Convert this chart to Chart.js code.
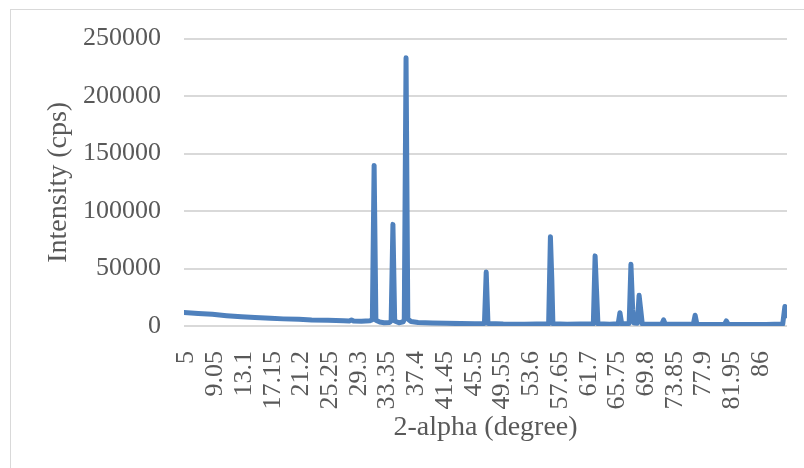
<!DOCTYPE html>
<html>
<head>
<meta charset="utf-8">
<script src="https://cdn.jsdelivr.net/npm/chart.js@4"></script>
<style>
  html, body { margin: 0; padding: 0; background: #fff; overflow: hidden; }
  #wrap { position: relative; width: 804px; height: 468px; }
  #frame { position: absolute; left: 10px; top: 9px; width: 900px; height: 600px;
           border: 1.5px solid #d9d9d9; box-sizing: border-box; }
</style>
</head>
<body>
<div id="wrap">
  <div id="frame"></div>
  <canvas id="myChart"></canvas>
</div>
<script>
// 2-theta positions (degree) and intensities
const angles = [
  5.0, 7.0, 9.0, 11.0, 13.1, 15.0, 17.2, 19.0, 21.2, 23.0, 25.3, 27.5, 28.3, 28.6, 28.9, 30.0, 31.2,
  31.55, 31.8, 32.05, 32.6, 33.2, 34.0, 34.2, 34.45, 34.7, 35.3, 35.9, 36.05, 36.3, 36.55, 37.0,
  38.0, 40.0, 42.0, 44.0, 46.0, 47.35, 47.6, 47.85, 50.0, 53.0, 56.4, 56.65, 56.85, 57.0,
  59.0, 62.7, 62.95, 63.15, 63.35, 65.0, 66.2, 66.45, 66.7, 67.75, 68.0, 68.25, 68.45, 68.9,
  69.15, 69.4, 69.6, 71.0, 72.35, 72.6, 72.85, 75.0, 76.8, 77.05, 77.3, 79.0, 81.2, 81.45,
  81.7, 84.0, 87.0, 89.4, 89.7, 89.85, 90.0
];
const intensity = [
  11700, 10900, 10200, 9000, 8000, 7300, 6700, 6200, 5800, 5300, 5000, 4500, 4400, 5300, 4300, 4200, 4500,
  5500, 139700, 5000, 3400, 2900, 3100, 4500, 88400, 4300, 2800, 3600, 6000, 233400, 6000, 3900,
  3100, 2600, 2300, 2100, 1900, 2200, 47000, 2200, 1700, 1600, 2000, 77700, 40000, 2000,
  1600, 1900, 61000, 31000, 1900, 1600, 1900, 11600, 1900, 2200, 53700, 14000, 2500, 2300,
  26700, 13000, 1800, 1500, 1600, 5300, 1600, 1500, 1700, 9300, 1600, 1400, 1500, 4400,
  1500, 1400, 1400, 1700, 16900, 10500, 9000
];
const tickLabels = ['5', '9.05', '13.1', '17.15', '21.2', '25.25', '29.3', '33.35', '37.4', '41.45',
  '45.5', '49.55', '53.6', '57.65', '61.7', '65.75', '69.8', '73.85', '77.9', '81.95', '86'];
const yTicks = [0, 50000, 100000, 150000, 200000, 250000];

const points = angles.map((a, i) => ({ x: a, y: intensity[i] }));
const textColor = '#595959';
const fontFamily = '"Liberation Serif", "DejaVu Serif", serif';

const ctx = document.getElementById('myChart').getContext('2d');
const myChart = new Chart(ctx, {
    type: 'line',
    data: {
        datasets: [{
            label: 'Intensity',
            data: points,
            borderColor: '#4f81bd',
            borderWidth: 5,
            borderJoinStyle: 'round',
            borderCapStyle: 'round',
            pointRadius: 0,
            tension: 0,
            fill: false
        }]
    },
    options: {
        responsive: true,
        maintainAspectRatio: false,
        animation: false,
        layout: { padding: { top: 38, right: 17, left: 0, bottom: 0 } },
        plugins: {
            legend: { display: false },
            tooltip: { enabled: false }
        },
        scales: {
            x: {
                type: 'linear',
                min: 5,
                max: 90,
                afterBuildTicks: (scale) => {
                    scale.ticks = tickLabels.map(t => ({ value: parseFloat(t) }));
                },
                afterFit: (scale) => {
                    scale.height = 142;
                    scale.paddingLeft = 0;
                    scale.paddingRight = 0;
                },
                grid: { display: false },
                border: { display: false },
                ticks: {
                    autoSkip: false,
                    minRotation: 90,
                    maxRotation: 90,
                    padding: 17,
                    labelOffset: 2.5,
                    color: textColor,
                    font: { family: fontFamily, size: 26 },
                    callback: (v) => tickLabels.find(t => parseFloat(t) === v) || ''
                },
                title: {
                    display: true,
                    text: '2-alpha (degree)',
                    color: textColor,
                    font: { family: fontFamily, size: 28 },
                    padding: { top: 0, bottom: 24 }
                }
            },
            y: {
                min: 0,
                max: 250000,
                afterBuildTicks: (scale) => {
                    scale.ticks = yTicks.map(v => ({ value: v }));
                },
                afterFit: (scale) => { scale.width = 184; },
                grid: { color: '#d9d9d9', lineWidth: 2, drawTicks: false },
                border: { display: false },
                ticks: {
                    padding: 23,
                    color: textColor,
                    font: { family: fontFamily, size: 26 },
                    callback: (v) => String(v)
                },
                title: {
                    display: true,
                    text: 'Intensity (cps)',
                    color: textColor,
                    font: { family: fontFamily, size: 28 },
                    padding: { top: 42, bottom: 0 }
                }
            }
        }
    }
});
</script>
</body>
</html>
